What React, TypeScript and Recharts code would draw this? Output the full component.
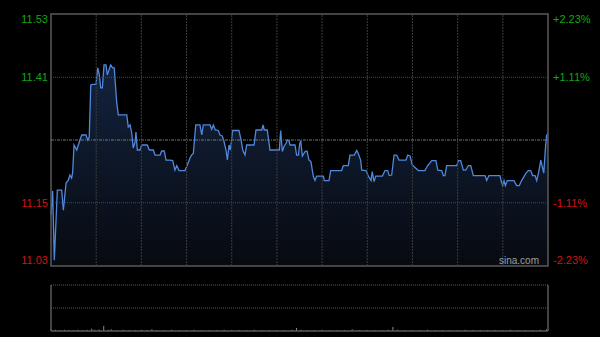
import React from "react";
import {
  ComposedChart,
  Area,
  Bar,
  XAxis,
  YAxis,
  ReferenceLine,
  ReferenceArea,
} from "recharts";

// ---- data ----
const PREV_CLOSE = 11.28;
const PCT_LIMIT = 2.23;
const PCT_GRID = 1.11;
const SESSION_MINUTES = 330;
const GRID_TIMES = [30, 60, 90, 120, 150, 180, 210, 240, 270, 300];

const priceTimes = [
  0, 1.1, 2.2, 4.2, 7.1, 8.2, 10.0, 11.5, 12.6, 13.7, 14.4, 15.3, 17.1, 18.8, 20.4, 23.2, 24.4, 25.4,
  26.4, 27.7, 29.9, 31.0, 32.1, 33.0, 34.1, 35.2, 36.5, 37.4, 38.5, 39.6, 41.0, 42.0, 43.6, 44.7, 50.3,
  51.3, 52.5, 53.6, 54.6, 55.8, 56.4, 57.3, 59.1, 60.2, 63.9, 65.3, 67.9, 69.1, 72.4, 73.5, 75.2, 76.4,
  79.0, 80.8, 82.3, 83.5, 85.0, 89.0, 90.5, 92.3, 93.4, 94.5, 96.1, 98.9, 100.1, 101.1, 105.6, 106.7,
  107.8, 109.1, 111.1, 112.2, 113.7, 114.9, 116.2, 117.1, 118.2, 119.1, 120.6, 124.8, 126.2, 127.3,
  128.8, 129.9, 134.8, 136.1, 139.9, 140.8, 141.6, 143.6, 145.4, 151.6, 152.5, 153.6, 154.7, 156.0,
  156.9, 158.0, 158.7, 162.0, 163.1, 164.3, 165.0, 165.8, 166.9, 168.7, 170.0, 171.3, 172.6, 174.2,
  175.3, 176.4, 180.8, 181.5, 184.6, 185.7, 193.0, 194.1, 197.4, 198.5, 201.4, 203.0, 204.0, 205.6,
  206.3, 209.2, 210.7, 212.5, 213.3, 214.5, 215.6, 220.0, 221.8, 223.6, 224.6, 226.2, 227.8, 229.5,
  231.1, 235.7, 236.9, 238.4, 239.9, 241.0, 243.9, 248.3, 249.9, 252.8, 255.6, 256.8, 259.4, 260.5,
  261.6, 262.7, 269.4, 270.5, 272.0, 273.8, 275.4, 277.1, 278.7, 280.4, 288.2, 289.3, 290.8, 298.1,
  299.0, 299.9, 300.8, 301.7, 303.0, 307.4, 309.2, 310.9, 312.5, 315.4, 316.9, 318.5, 319.8, 321.4,
  322.5, 324.0, 325.2, 326.2, 327.2, 328.2, 329.1, 330.0,
];

const prices = [
  11.13, 11.178, 11.04, 11.18, 11.18, 11.14, 11.194, 11.2, 11.21, 11.204, 11.216, 11.27, 11.26, 11.276,
  11.29, 11.29, 11.28, 11.286, 11.39, 11.391, 11.391, 11.424, 11.41, 11.384, 11.384, 11.43, 11.43,
  11.41, 11.42, 11.43, 11.424, 11.424, 11.356, 11.33, 11.33, 11.306, 11.31, 11.294, 11.264, 11.276,
  11.296, 11.26, 11.26, 11.27, 11.27, 11.26, 11.26, 11.25, 11.25, 11.258, 11.258, 11.24, 11.24,
  11.239, 11.22, 11.229, 11.219, 11.219, 11.23, 11.244, 11.25, 11.253, 11.31, 11.31, 11.29, 11.31,
  11.31, 11.301, 11.31, 11.3, 11.299, 11.29, 11.288, 11.277, 11.26, 11.24, 11.27, 11.26, 11.299,
  11.299, 11.28, 11.26, 11.25, 11.27, 11.27, 11.3, 11.3, 11.31, 11.3, 11.3, 11.26, 11.26, 11.299,
  11.257, 11.267, 11.273, 11.28, 11.279, 11.27, 11.27, 11.25, 11.25, 11.27, 11.279, 11.248, 11.257,
  11.258, 11.24, 11.237, 11.207, 11.199, 11.208, 11.208, 11.199, 11.199, 11.219, 11.219, 11.229,
  11.229, 11.25, 11.25, 11.259, 11.253, 11.24, 11.22, 11.219, 11.208, 11.199, 11.217, 11.197, 11.208,
  11.208, 11.219, 11.219, 11.209, 11.21, 11.25, 11.25, 11.24, 11.24, 11.25, 11.248, 11.23, 11.227,
  11.219, 11.219, 11.228, 11.239, 11.239, 11.22, 11.219, 11.209, 11.209, 11.229, 11.229, 11.239,
  11.239, 11.22, 11.22, 11.229, 11.229, 11.209, 11.209, 11.199, 11.209, 11.209, 11.197, 11.189,
  11.199, 11.189, 11.199, 11.199, 11.189, 11.189, 11.199, 11.214, 11.219, 11.219, 11.209, 11.209,
  11.199, 11.219, 11.24, 11.227, 11.214, 11.26, 11.29, 11.292,
];

const volTimes = [
  0, 3, 6, 9, 12, 15, 18, 21, 24, 27, 29, 32, 35, 38, 40, 44, 48, 52, 56, 60, 64, 67, 70, 75, 80, 85,
  90, 95, 100, 105, 110, 115, 120, 125, 130, 135, 140, 145, 150, 155, 160, 163, 166, 170, 175, 180,
  185, 190, 195, 200, 205, 210, 215, 220, 224, 227, 230, 235, 240, 245, 250, 255, 260, 265, 270, 275,
  280, 285, 290, 295, 300, 305, 310, 315, 320, 325, 329,
];
const volumes = [
  5, 4, 3, 4, 3, 3, 4, 3, 4, 7, 4, 5, 16, 4, 6, 3, 4, 3, 3, 4, 3, 6, 3, 3, 4, 3, 3, 4, 3, 3, 3, 4, 3,
  3, 3, 4, 3, 3, 3, 3, 4, 10, 4, 3, 3, 4, 3, 3, 3, 6, 3, 3, 3, 3, 4, 13, 4, 3, 3, 3, 4, 3, 3, 3, 3,
  4, 3, 3, 3, 3, 3, 4, 3, 3, 3, 4, 6,
];
const VOL_MAX = 150;

const priceData = priceTimes.map((t, i) => ({ t, p: prices[i] }));
const volData = volTimes.map((t, i) => ({ t, v: volumes[i] }));

const HI = PREV_CLOSE * (1 + PCT_LIMIT / 100);
const LO = PREV_CLOSE * (1 - PCT_LIMIT / 100);
const G_UP = PREV_CLOSE * (1 + PCT_GRID / 100);
const G_DN = PREV_CLOSE * (1 - PCT_GRID / 100);

const FONT = '"Liberation Sans", Arial, sans-serif';
const GREEN = "#14a514";
const RED = "#d01414";

const LeftTick = (props: any) => {
  const { x, y, payload } = props;
  const v = payload.value;
  const dy = Math.abs(v - HI) < 1e-6 ? 5 : Math.abs(v - LO) < 1e-6 ? -6 : 0;
  return (
    <text
      x={x}
      y={y + dy}
      dy="0.36em"
      textAnchor="end"
      fill={v > PREV_CLOSE ? GREEN : RED}
      fontSize={11}
      fontFamily={FONT}
    >
      {v.toFixed(2)}
    </text>
  );
};

const RightTick = (props: any) => {
  const { x, y, payload } = props;
  const v = payload.value;
  const dy = v === PCT_LIMIT ? 5 : v === -PCT_LIMIT ? -6 : 0;
  return (
    <text
      x={x}
      y={y + dy}
      dy="0.36em"
      textAnchor="start"
      fill={v > 0 ? GREEN : RED}
      fontSize={11}
      fontFamily={FONT}
    >
      {(v > 0 ? "+" : "") + v.toFixed(2) + "%"}
    </text>
  );
};

export default function App() {
  return (
    <div
      style={{
        position: "absolute",
        left: 0,
        top: 0,
        width: 600,
        height: 337,
        background: "#000",
        overflow: "hidden",
      }}
    >
      <div style={{ position: "absolute", left: 0, top: 0 }}>
        <ComposedChart
          width={600}
          height={280}
          data={priceData}
          margin={{ top: 14, right: 0, bottom: 14, left: 0 }}
        >
          <defs>
            <linearGradient id="areaFill" x1="0" y1="0" x2="0" y2="1">
              <stop offset="0%" stopColor="#142440" stopOpacity={0.95} />
              <stop offset="100%" stopColor="#070a10" stopOpacity={1} />
            </linearGradient>
          </defs>
          <XAxis dataKey="t" type="number" domain={[0, SESSION_MINUTES]} hide />
          <YAxis
            yAxisId="p"
            orientation="left"
            width={51}
            domain={[LO, HI]}
            ticks={[HI, G_UP, G_DN, LO]}
            tick={<LeftTick />}
            axisLine={false}
            tickLine={false}
            tickSize={0}
            tickMargin={3}
            allowDataOverflow
          />
          <YAxis
            yAxisId="pct"
            orientation="right"
            width={52}
            domain={[-PCT_LIMIT, PCT_LIMIT]}
            ticks={[PCT_LIMIT, PCT_GRID, -PCT_GRID, -PCT_LIMIT]}
            tick={<RightTick />}
            axisLine={false}
            tickLine={false}
            tickSize={0}
            tickMargin={5}
            allowDataOverflow
          />
          <Area
            yAxisId="p"
            dataKey="p"
            type="linear"
            stroke="#4f88dc"
            strokeWidth={1.3}
            fill="url(#areaFill)"
            fillOpacity={1}
            baseValue={LO}
            dot={false}
            activeDot={false}
            isAnimationActive={false}
          />
          {GRID_TIMES.map((t) => (
            <ReferenceLine
              key={t}
              yAxisId="p"
              x={t}
              stroke="#3c3c3c"
              strokeDasharray="2 1"
            />
          ))}
          <ReferenceLine yAxisId="p" y={G_UP} stroke="#4a4a4a" strokeDasharray="1 1" />
          <ReferenceLine yAxisId="p" y={G_DN} stroke="#4a4a4a" strokeDasharray="1 1" />
          <ReferenceLine yAxisId="p" y={PREV_CLOSE} stroke="#777" strokeDasharray="3 1 1 1" />
          <ReferenceArea
            yAxisId="p"
            x1={0}
            x2={SESSION_MINUTES}
            y1={LO}
            y2={HI}
            fill="none"
            stroke="#5a5a5a"
            strokeWidth={1.5}
            ifOverflow="visible"
          />
        </ComposedChart>
      </div>
      <div
        style={{
          position: "absolute",
          left: 499,
          top: 255,
          color: "#a0a0a0",
          fontFamily: FONT,
          fontSize: 10,
          lineHeight: "12px",
        }}
      >
        sina.com
      </div>
      <div style={{ position: "absolute", left: 0, top: 280 }}>
        <ComposedChart
          width={600}
          height={57}
          data={volData}
          margin={{ top: 5, right: 52, bottom: 6, left: 51 }}
        >
          <XAxis dataKey="t" type="number" domain={[0, SESSION_MINUTES]} hide />
          <YAxis yAxisId="v" domain={[0, VOL_MAX]} hide />
          <Bar
            yAxisId="v"
            dataKey="v"
            fill="#8a8a8a"
            barSize={1}
            isAnimationActive={false}
          />
          <ReferenceLine yAxisId="v" y={VOL_MAX} stroke="#5a5a5a" strokeDasharray="1 1" />
          <ReferenceLine yAxisId="v" y={VOL_MAX / 2} stroke="#5a5a5a" strokeDasharray="1 1" />
          <ReferenceLine yAxisId="v" y={0} stroke="#5a5a5a" strokeWidth={1.5} />
          <ReferenceLine yAxisId="v" x={0} stroke="#5a5a5a" strokeWidth={1.5} />
          <ReferenceLine yAxisId="v" x={SESSION_MINUTES} stroke="#5a5a5a" strokeWidth={1.5} />
        </ComposedChart>
      </div>
    </div>
  );
}
